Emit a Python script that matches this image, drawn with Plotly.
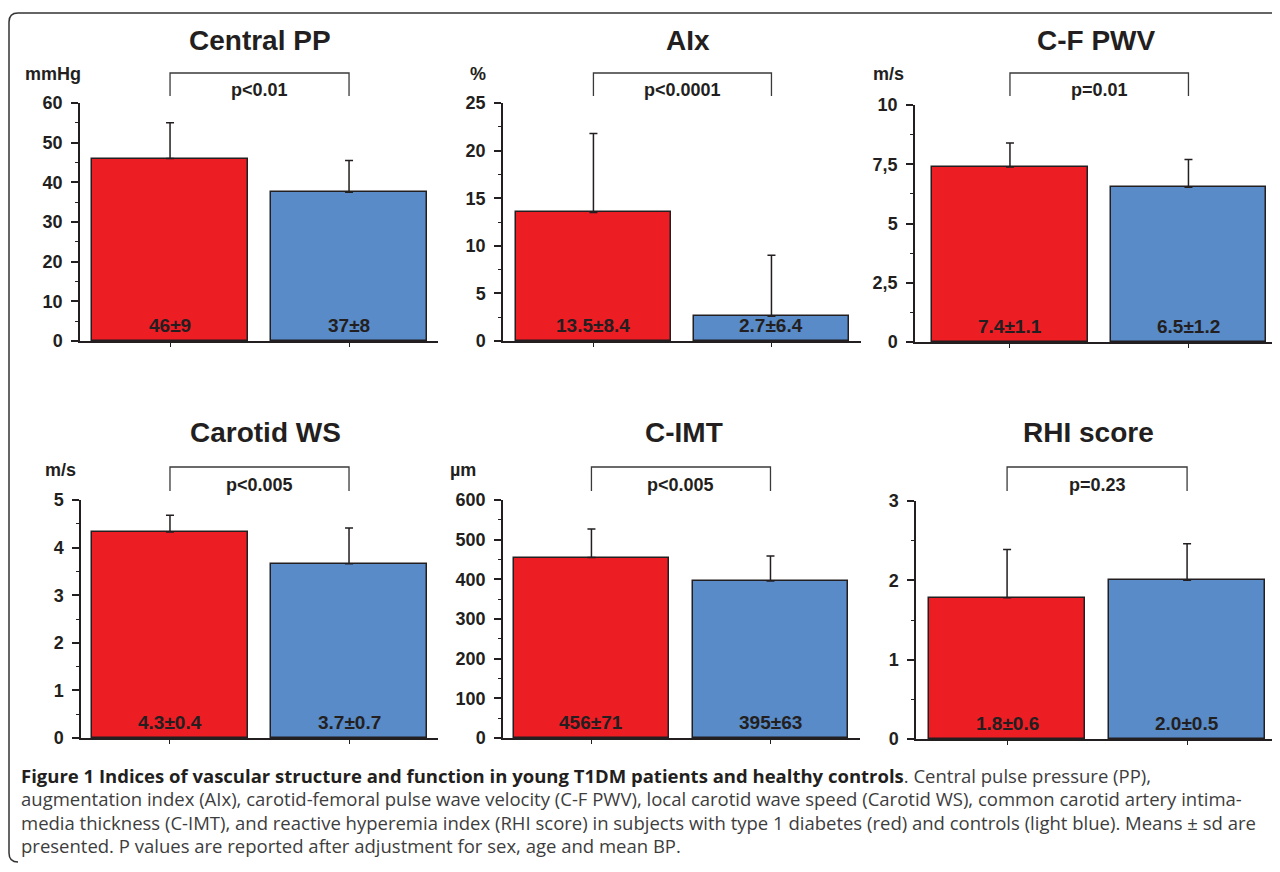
import plotly.graph_objects as go

# ---------------- data ----------------
panel_titles = ["Central PP", "AIx", "C-F PWV", "Carotid WS", "C-IMT", "RHI score"]
unit_labels = ["mmHg", "%", "m/s", "m/s", "µm", ""]
groups = ["T1DM", "Controls"]
t1dm_mean = [46, 13.5, 7.38, 4.33, 455, 1.78]
t1dm_sd = [9, 8.3, 1.02, 0.35, 72, 0.61]
ctrl_mean = [37.5, 2.6, 6.53, 3.66, 396, 2.0]
ctrl_sd = [8, 6.4, 1.17, 0.75, 63, 0.46]
t1dm_labels = ["46±9", "13.5±8.4", "7.4±1.1", "4.3±0.4", "456±71", "1.8±0.6"]
ctrl_labels = ["37±8", "2.7±6.4", "6.5±1.2", "3.7±0.7", "395±63", "2.0±0.5"]
p_labels = ["p<0.01", "p<0.0001", "p=0.01", "p<0.005", "p<0.005", "p=0.23"]
y_max = [60, 25, 10, 5, 600, 3]
y_dtick = [10, 5, 2.5, 1, 100, 1]
pwv_tickvals = [0, 2.5, 5, 7.5, 10]
pwv_ticktext = ["0", "2,5", "5", "7,5", "10"]

caption_lines = [
    "<span style='color:#231F20'><b>Figure 1 Indices of vascular structure and function in young T1DM patients and healthy controls</b></span>. Central pulse pressure (PP),",
    "augmentation index (AIx), carotid-femoral pulse wave velocity (C-F PWV), local carotid wave speed (Carotid WS), common carotid artery intima-",
    "media thickness (C-IMT), and reactive hyperemia index (RHI score) in subjects with type 1 diabetes (red) and controls (light blue). Means ± sd are",
    "presented. P values are reported after adjustment for sex, age and mean BP.",
]

# ---------------- layout geometry (pixels, page coordinates) ----------------
W, H = 1280, 872
OFF = 8  # page body margin
RED = "#ED1D24"
BLUE = "#588BC8"
DARK = "#231F20"
FONT = "Liberation Sans, Arial, sans-serif"

# left, right, top, bottom of each plot area, x-range
geom = [
    (80, 438, 103, 341, -0.503, 1.497),
    (503, 861, 103, 341, -0.508, 1.503),
    (915, 1277, 105, 342, -0.532, 1.496),
    (81, 438, 500, 738, -0.497, 1.497),
    (503, 860, 500, 738, -0.494, 1.5),
    (916, 1276, 501, 739, -0.506, 1.494),
]
row_y = [  # title, unit, bracket top, bracket bottom, p label
    (41, 74, 73, 96, 90),
    (433, 470, 467, 491, 485),
]
title_x = [260, 688, 1096, 265, 684, 1088]
unit_x = [53, 478, 888, 60, 463, 0]


def px(x):
    return (x - OFF) / W


def py(y):
    return 1 - (y - OFF) / H


fig = go.Figure()
shapes = []
annotations = []

for i in range(6):
    l, r, t, b, x0, x1 = geom[i]
    ax = "" if i == 0 else str(i + 1)
    xa, ya = "x" + ax, "y" + ax
    fig.add_trace(go.Bar(
        x=[0, 1],
        y=[t1dm_mean[i], ctrl_mean[i]],
        width=0.87,
        marker=dict(color=[RED, BLUE], line=dict(color=DARK, width=1.5)),
        error_y=dict(type="data", symmetric=False,
                     array=[t1dm_sd[i], ctrl_sd[i]], arrayminus=[0, 0],
                     color=DARK, thickness=1.5, width=4),
        xaxis=xa, yaxis=ya, showlegend=False, hoverinfo="skip",
    ))
    yaxis = dict(
        domain=[py(b), py(t)], anchor=xa, range=[0, y_max[i]],
        showline=True, linecolor=DARK, linewidth=1.5,
        ticks="outside", ticklen=7, tickwidth=1.5, tickcolor=DARK,
        dtick=y_dtick[i], tick0=0,
        minor=dict(ticks="outside", ticklen=3, tickwidth=1.2, tickcolor=DARK,
                   dtick=y_dtick[i] / 2, showgrid=False),
        showgrid=False, zeroline=False, ticklabelstandoff=5,
        tickfont=dict(family=FONT, size=18, color=DARK, weight="bold"),
        fixedrange=True, automargin=False,
    )
    if i == 2:
        yaxis.update(tickmode="array", tickvals=pwv_tickvals, ticktext=pwv_ticktext)
    xaxis = dict(
        domain=[px(l), px(r)], anchor=ya, range=[x0, x1],
        showline=True, linecolor=DARK, linewidth=2,
        ticks="outside", ticklen=4, tickwidth=1.2, tickcolor=DARK,
        tickmode="array", tickvals=[0, 1], showticklabels=False,
        showgrid=False, zeroline=False, fixedrange=True, automargin=False,
    )
    fig.update_layout({"xaxis" + ax: xaxis, "yaxis" + ax: yaxis})

    # short stub of the baseline to the left of the y axis
    shapes.append(dict(type="line", xref="paper", yref=ya, x0=px(l - 6), x1=px(l), y0=0, y1=0,
                       line=dict(color=DARK, width=2)))

    ty, uy, bt, bb, pyy = row_y[i // 3]
    annotations.append(dict(text="<b>" + panel_titles[i] + "</b>", xref="paper", yref="paper",
                            x=px(title_x[i]), y=py(ty), xanchor="center", yanchor="middle",
                            showarrow=False, font=dict(family=FONT, size=28, color=DARK)))
    if unit_labels[i]:
        annotations.append(dict(text="<b>" + unit_labels[i] + "</b>", xref="paper", yref="paper",
                                x=px(unit_x[i]), y=py(uy), xanchor="center", yanchor="middle",
                                showarrow=False, font=dict(family=FONT, size=18, color=DARK)))
    annotations.append(dict(text="<b>" + p_labels[i] + "</b>", xref=xa, yref="paper",
                            x=0.5, y=py(pyy), xanchor="center", yanchor="middle",
                            showarrow=False, font=dict(family=FONT, size=18, color=DARK)))
    shapes.append(dict(type="path", xref=xa, yref="paper",
                       path=f"M 0,{py(bb)} L 0,{py(bt)} L 1,{py(bt)} L 1,{py(bb)}",
                       line=dict(color="#3a3a3a", width=1.3)))
    for k, lab in enumerate([t1dm_labels[i], ctrl_labels[i]]):
        annotations.append(dict(text="<b>" + lab + "</b>", xref=xa, yref=ya,
                                x=k, y=0, xanchor="center", yanchor="bottom", yshift=3,
                                showarrow=False, font=dict(family=FONT, size=19, color=DARK)))

# caption
cap_y = [775, 798, 822, 845]
for j, line in enumerate(caption_lines):
    annotations.append(dict(text=line, xref="paper", yref="paper", x=px(19), y=py(cap_y[j]),
                            xanchor="left", yanchor="middle", showarrow=False, align="left",
                            font=dict(family="Open Sans, sans-serif", size=18.5, color="#3d3d3d")))

# rounded border (left edge kept just inside the drawable area)
L, R, T, B, rad = 9, 1278, 13, 862, 9
path = (f"M {px(L + rad)},{py(T)} L {px(R)},{py(T)} "
        f"M {px(L)},{py(B - rad)} L {px(L)},{py(T + rad)} Q {px(L)},{py(T)} {px(L + rad)},{py(T)} "
        f"M {px(L)},{py(B - rad)} Q {px(L)},{py(B)} {px(L + rad)},{py(B)}")
shapes.append(dict(type="path", xref="paper", yref="paper", path=path,
                   line=dict(color="#333333", width=1.5)))

fig.update_layout(
    width=W, height=H, margin=dict(l=0, r=0, t=0, b=0, pad=0, autoexpand=False),
    paper_bgcolor="white", plot_bgcolor="white",
    shapes=shapes, annotations=annotations, bargap=0,
)
fig.write_html("out.html")
